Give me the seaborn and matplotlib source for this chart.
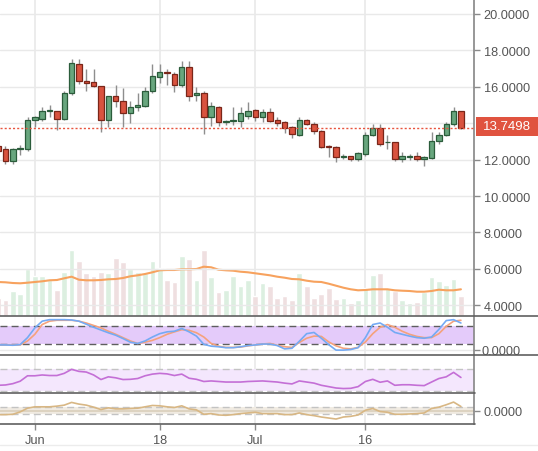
import numpy as np
import pandas as pd
import seaborn as sns
import matplotlib.pyplot as plt
from matplotlib.lines import Line2D
from matplotlib.patches import Rectangle
from matplotlib.transforms import Bbox, TransformedBbox

# daily candles, 27 May .. 29 Jul
dates = pd.date_range("2018-05-27", "2018-07-29", freq="D")
opens = [12.75, 12.58, 11.90, 12.58, 12.58, 14.17, 14.23, 14.65, 14.65, 14.23,
         15.64, 17.25, 16.33, 16.24, 16.04, 14.17, 15.49, 15.20, 14.56, 14.87,
         14.96, 15.75, 16.55, 16.79, 16.70, 16.10, 17.07, 15.55, 15.64, 14.36,
         14.87, 14.06, 14.10, 14.10, 14.41, 14.74, 14.36, 14.60, 14.19, 14.05,
         13.77, 13.37, 14.17, 13.95, 13.55, 12.76, 12.67, 12.12, 12.18, 12.03,
         12.31, 13.35, 13.74, 12.94, 12.94, 12.03, 12.15, 12.18, 12.03, 12.09,
         13.00, 13.33, 13.96, 14.65]
highs = [12.90, 12.76, 12.62, 12.82, 14.36, 14.41, 14.87, 15.02, 14.68, 15.78,
         17.51, 17.51, 16.98, 16.98, 16.04, 15.49, 16.11, 15.91, 15.20, 15.64,
         16.00, 17.25, 17.25, 16.98, 16.79, 17.43, 17.43, 16.00, 15.78, 15.14,
         14.96, 14.17, 14.87, 14.87, 15.15, 14.78, 14.78, 14.83, 14.32, 14.10,
         13.86, 14.32, 14.23, 14.05, 13.63, 12.78, 12.76, 12.31, 12.22, 12.44,
         13.53, 13.96, 13.96, 13.37, 12.94, 12.44, 12.31, 12.40, 12.18, 13.50,
         13.50, 14.08, 14.87, 14.69]
lows = [12.30, 11.75, 11.75, 12.27, 12.49, 13.81, 14.14, 14.32, 13.62, 14.17,
        15.56, 16.15, 15.75, 15.97, 13.49, 13.77, 14.87, 13.77, 13.99, 14.65,
        14.87, 15.64, 16.19, 16.11, 15.69, 16.00, 15.20, 15.20, 13.40, 13.86,
        13.86, 13.92, 13.92, 13.77, 14.23, 14.14, 14.05, 14.05, 13.86, 13.44,
        13.19, 13.31, 13.92, 13.40, 12.64, 12.12, 11.85, 12.03, 11.94, 11.94,
        12.18, 13.28, 12.73, 12.58, 11.94, 11.85, 12.00, 11.94, 11.67, 12.03,
        12.86, 13.28, 13.86, 13.68]
closes = [12.45, 11.90, 12.58, 12.60, 14.17, 14.32, 14.65, 14.72, 14.23, 15.64,
          17.29, 16.30, 16.22, 16.02, 14.17, 15.49, 15.20, 14.56, 14.87, 15.02,
          15.78, 16.57, 16.79, 16.74, 16.10, 17.07, 15.51, 15.64, 14.36, 14.96,
          14.04, 14.08, 14.17, 14.54, 14.65, 14.36, 14.60, 14.14, 14.01, 13.74,
          13.41, 14.19, 13.95, 13.55, 12.71, 12.67, 12.12, 12.21, 12.03, 12.36,
          13.37, 13.74, 12.86, 12.97, 12.03, 12.18, 12.18, 12.03, 12.12, 13.00,
          13.35, 13.96, 14.65, 13.7498]
volume = [18.3, 15.7, 25.0, 22.3, 46.7, 40.0, 40.0, 36.0, 26.0, 44.0,
          66.0, 55.0, 42.7, 40.0, 44.0, 42.7, 58.3, 54.0, 46.7, 44.0,
          42.7, 55.0, 48.3, 36.0, 34.0, 60.0, 57.3, 36.0, 66.0, 39.0,
          24.0, 26.0, 40.0, 30.0, 36.0, 20.0, 32.7, 30.0, 18.3, 20.0,
          16.0, 42.7, 30.0, 18.3, 21.7, 28.3, 17.3, 18.3, 12.7, 16.0,
          28.3, 40.7, 42.7, 28.3, 25.0, 16.0, 12.7, 14.0, 24.0, 39.3,
          35.0, 31.0, 37.3, 20.0]
volume_ma = [34.0, 33.7, 33.0, 32.7, 33.3, 34.0, 34.7, 35.7, 36.0, 37.7,
             39.3, 36.3, 35.7, 35.7, 36.0, 36.7, 37.0, 38.0, 39.7, 40.7,
             42.0, 43.7, 45.7, 46.0, 46.0, 46.7, 46.7, 47.0, 49.3, 48.7,
             46.3, 45.7, 45.3, 44.3, 43.7, 42.7, 41.7, 40.7, 39.3, 38.3,
             37.0, 36.7, 35.3, 34.3, 34.0, 32.3, 30.3, 28.3, 26.7, 25.7,
             26.0, 26.7, 26.7, 26.7, 25.7, 25.3, 25.0, 24.3, 24.3, 25.0,
             26.3, 25.7, 25.7, 26.7]
stoch_k = [17, 17, 16, 18, 41, 73, 95, 100, 100, 100, 99, 95, 85, 75, 66, 57,
           49, 38, 26, 22, 30, 43, 54, 60, 62, 71, 60, 46, 19, 13, 11, 8,
           8, 11, 15, 17, 20, 20, 15, 4, 6, 29, 54, 58, 39, 18, 0, 0,
           2, 8, 41, 84, 89, 75, 58, 52, 46, 41, 39, 43, 68, 97, 100, 89]
stoch_d = [17, 17, 17, 17, 30, 52, 84, 95, 98, 98, 98, 95, 89, 81, 73, 62,
           52, 41, 30, 22, 26, 32, 41, 52, 60, 67, 65, 57, 43, 22, 13, 9,
           9, 10, 14, 17, 20, 22, 16, 11, 9, 25, 39, 46, 45, 27, 14, 6,
           4, 9, 27, 54, 75, 84, 75, 62, 52, 45, 41, 41, 54, 78, 95, 98]
rsi = [40.0, 40.6, 43.0, 47.5, 57.5, 57.5, 59.0, 58.0, 58.0, 62.0, 69.4, 65.6,
       64.4, 59.0, 50.6, 55.6, 53.8, 50.6, 51.0, 52.5, 57.5, 60.6, 62.0, 61.0,
       58.0, 60.6, 53.0, 51.0, 47.0, 48.0, 47.0, 46.0, 46.0, 46.0, 47.0, 47.5,
       48.0, 47.0, 46.0, 44.0, 42.5, 48.0, 46.0, 44.0, 40.0, 37.5, 35.0, 34.0,
       34.4, 37.5, 47.0, 51.0, 45.6, 48.0, 40.0, 41.0, 41.0, 40.0, 39.4, 46.0,
       52.5, 55.6, 63.8, 54.4]
osc = [-1.10, -1.09, -1.00, -0.36, 0.64, 1.00, 1.00, 1.00, 1.18, 1.45, 2.18,
       1.73, 1.45, 0.91, 0.27, 0.73, 0.45, 0.45, 0.55, 0.64, 1.00, 1.36, 1.27,
       1.00, 0.82, 1.27, 0.45, 0.18, -1.00, -0.82, -1.18, -1.27, -1.09, -0.82,
       -0.64, -0.45, -0.82, -0.82, -0.82, -1.09, -1.09, -0.64, -1.09, -1.36,
       -1.73, -2.00, -2.27, -1.73, -1.55, -1.18, 0.09, 0.55, -0.27, -0.45,
       -1.00, -1.00, -0.91, -0.82, -0.64, 0.55, 0.91, 1.55, 2.27, 1.09]
last_price = 13.7498
price_grid = [4, 6, 8, 10, 12, 14, 16, 18, 20]
price_labels = [4, 6, 8, 10, 12, 16, 18, 20]
date_ticks = ["2018-06-01", "2018-06-18", "2018-07-01", "2018-07-16"]
date_labels = ["Jun", "18", "Jul", "16"]

df = pd.DataFrame({"date": dates, "open": opens, "high": highs, "low": lows,
                   "close": closes, "volume": volume, "vol_ma": volume_ma,
                   "k": stoch_k, "d": stoch_d, "rsi": rsi, "osc": osc})
df["i"] = np.arange(len(df))
up = df["close"] >= df["open"]
tick_pos = [int(np.where(dates == pd.Timestamp(d))[0][0]) for d in date_ticks]

sns.set_theme(style="white")
plt.rcParams["font.family"] = ["Liberation Sans", "DejaVu Sans"]

W, H = 538, 452
AX_R = 474
TXT = "#555555"
GRID = "#e9e9e9"
AXC = "#8a8a8a"
FS = 9.2


def rect(top, bottom):
    return [0, 1 - bottom / H, AX_R / W, (bottom - top) / H]


def right_axis(a):
    a.spines["right"].set_visible(True)
    a.spines["right"].set_color(AXC)
    a.yaxis.tick_right()
    a.tick_params(axis="y", length=4, color=AXC, labelcolor=TXT, labelsize=FS,
                  pad=3, width=1)


fig = plt.figure(figsize=(W / 100, H / 100), dpi=100)

ax_vol = fig.add_axes(rect(0, 317))
ax = fig.add_axes(rect(0, 317))
ax2 = fig.add_axes(rect(317, 356))
ax3 = fig.add_axes(rect(356, 394))
ax4 = fig.add_axes(rect(394, 425))
ax_vol.set_zorder(0)
ax.set_zorder(1)
ax.patch.set_visible(False)

xlim = (0.256, 64.78)
for a in (ax_vol, ax, ax2, ax3, ax4):
    for s in ("top", "left", "bottom", "right"):
        a.spines[s].set_visible(False)
    a.set_xticks([])
    a.set_yticks([])
for a in (ax_vol, ax2, ax3, ax4):
    for p in tick_pos:
        a.axvline(p, color=GRID, lw=1.2, zorder=0)

# volume + its moving average
ax_vol.set_ylim(0, 317)
ax_vol.bar(df["i"][up], df["volume"][up], width=0.78, color="#dcefe0", zorder=1)
ax_vol.bar(df["i"][~up], df["volume"][~up], width=0.78, color="#efdfe0", zorder=1)
sns.lineplot(data=df, x="i", y="vol_ma", ax=ax_vol, color="#f7a25e", lw=1.5,
             legend=False, zorder=3)
ax_vol.set(xlabel="", ylabel="")

# candles
ax.set_ylim(3.407, 20.824)
for yv in price_grid:
    ax.axhline(yv, color=GRID, lw=1.0, zorder=0)
ax.vlines(df["i"], df["low"], df["high"], color="#8e8e8e", lw=1.0, zorder=2)
body = np.maximum((df["close"] - df["open"]).abs(), 0.05)
bottom = np.minimum(df["open"], df["close"])
ax.bar(df["i"][up], body[up], bottom=bottom[up], width=0.74, color="#68a67e",
       edgecolor="#2b5c3b", linewidth=0.9, zorder=3)
ax.bar(df["i"][~up], body[~up], bottom=bottom[~up], width=0.74, color="#d9533f",
       edgecolor="#7a2619", linewidth=0.9, zorder=3)
ax.axhline(last_price, color="#e8553f", lw=1.0, ls=(0, (1.5, 1.5)), zorder=4)
right_axis(ax)
ax.set_yticks(price_labels)
ax.set_yticklabels([f"{v:.4f}" for v in price_labels])

# stochastic panel
ax2.set_ylim(-16, 112)
ax2.axhline(0, color=GRID, lw=1.0, zorder=0)
ax2.fill_between(xlim, 20, 80, color="#e4cbfa", zorder=1, lw=0)
for lv in (20, 80):
    ax2.axhline(lv, color="#5e5e5e", lw=1.0, ls=(0, (5, 3)), zorder=2)
sns.lineplot(data=df, x="i", y="k", ax=ax2, color="#74aaf4", lw=1.2, legend=False,
             zorder=4)
sns.lineplot(data=df, x="i", y="d", ax=ax2, color="#f5a27c", lw=1.2, legend=False,
             zorder=3)
ax2.set(xlabel="", ylabel="")
right_axis(ax2)
ax2.set_yticks([0])
ax2.set_yticklabels([""])
lab = fig.text(482 / W, 1 - 352 / H, "0.0000", ha="left", va="center",
               color=TXT, fontsize=FS, clip_on=True)
lab.set_clip_box(TransformedBbox(Bbox([[AX_R / W, 1 - 356 / H], [1, 1 - 317 / H]]),
                                 fig.transFigure))

# RSI panel
ax3.set_ylim(25.8, 95.8)
ax3.fill_between(xlim, 30, 70, color="#f4e7fd", zorder=1, lw=0)
for lv in (30, 70):
    ax3.axhline(lv, color="#c3c3c3", lw=1.0, ls=(0, (5, 3)), zorder=2)
sns.lineplot(data=df, x="i", y="rsi", ax=ax3, color="#c46fd6", lw=1.2,
             legend=False, zorder=3)
ax3.set(xlabel="", ylabel="")
right_axis(ax3)
ax3.set_yticks([])

# oscillator panel
ax4.set_ylim(-3.6, 4.7)
ax4.fill_between(xlim, -1, 1, color="#f1ece3", zorder=1, lw=0)
ax4.axhline(0, color="#ddd3c1", lw=1.5, zorder=1)
for lv in (-1, 1):
    ax4.axhline(lv, color="#c3c3c3", lw=1.0, ls=(0, (5, 3)), zorder=2)
sns.lineplot(data=df, x="i", y="osc", ax=ax4, color="#d8b784", lw=1.2,
             legend=False, zorder=3)
ax4.set(xlabel="", ylabel="")
right_axis(ax4)
ax4.set_yticks([0])
ax4.set_yticklabels(["0.0000"])
ax4.set_xticks(tick_pos)
ax4.set_xticklabels(date_labels)
ax4.tick_params(axis="x", bottom=True, length=4, color=AXC, labelcolor=TXT,
                labelsize=FS, pad=3, width=1)

for a in (ax_vol, ax, ax2, ax3, ax4):
    a.set_xlim(*xlim)

# panel separators and frame lines
for yy, x1 in ((317, 1.0), (356, 1.0), (394, (AX_R + 1) / W), (425, (AX_R + 1) / W)):
    fig.add_artist(Line2D([0, x1], [1 - yy / H, 1 - yy / H], color="#606060", lw=1.2))
fig.add_artist(Line2D([0, 1], [1 - 446 / H, 1 - 446 / H], color="#ececec", lw=1.0))

# last price tag
fig.add_artist(Rectangle((476 / W, 1 - 136.7 / H), 62 / W, 18.4 / H,
                         transform=fig.transFigure, color="#e0533f", lw=0))
fig.text(507 / W, 1 - 127.5 / H, f"{last_price:.4f}", ha="center", va="center",
         color="white", fontsize=FS + 0.3)

fig.savefig("out.png", dpi=100)
